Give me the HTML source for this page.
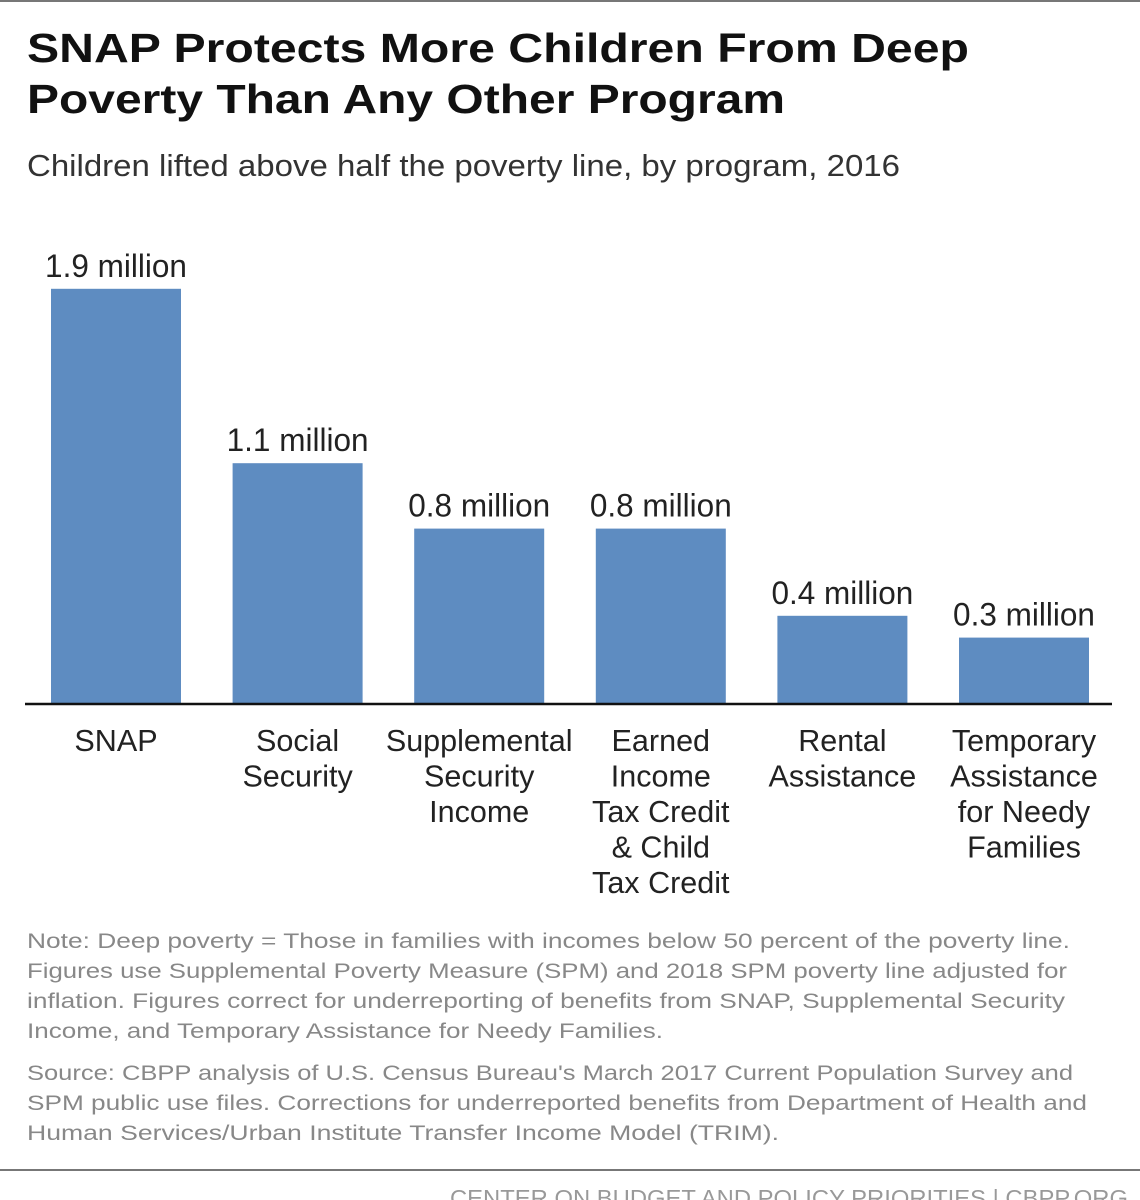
<!DOCTYPE html>
<html><head><meta charset="utf-8"><style>
html,body{margin:0;padding:0;background:#fff;}
svg{display:block;font-family:"Liberation Sans",sans-serif;}
</style></head><body>
<svg id="chart" width="1140" height="1200" viewBox="0 0 1140 1200" xmlns="http://www.w3.org/2000/svg">
<rect x="0" y="0" width="1140" height="1200" fill="#fff"/>
<line x1="0" y1="1" x2="1140" y2="1" stroke="#777" stroke-width="2"/>
<text x="27" y="62" font-size="41" font-weight="bold" fill="#111" textLength="942" lengthAdjust="spacingAndGlyphs">SNAP Protects More Children From Deep</text>
<text x="27" y="113" font-size="41" font-weight="bold" fill="#111" textLength="758" lengthAdjust="spacingAndGlyphs">Poverty Than Any Other Program</text>
<text x="27" y="176" font-size="31" fill="#333" textLength="873" lengthAdjust="spacingAndGlyphs">Children lifted above half the poverty line, by program, 2016</text>
<g id="bars"></g>
<line x1="25" y1="704" x2="1112" y2="704" stroke="#111" stroke-width="2.5"/>
<g fill="#888" font-size="21">
<text x="27" y="948" textLength="1043" lengthAdjust="spacingAndGlyphs">Note: Deep poverty = Those in families with incomes below 50 percent of the poverty line.</text>
<text x="27" y="978" textLength="1040" lengthAdjust="spacingAndGlyphs">Figures use Supplemental Poverty Measure (SPM) and 2018 SPM poverty line adjusted for</text>
<text x="27" y="1008" textLength="1038" lengthAdjust="spacingAndGlyphs">inflation. Figures correct for underreporting of benefits from SNAP, Supplemental Security</text>
<text x="27" y="1038" textLength="636" lengthAdjust="spacingAndGlyphs">Income, and Temporary Assistance for Needy Families.</text>
</g>
<g fill="#888" font-size="21">
<text x="27" y="1080" textLength="1046" lengthAdjust="spacingAndGlyphs">Source: CBPP analysis of U.S. Census Bureau's March 2017 Current Population Survey and</text>
<text x="27" y="1110" textLength="1060" lengthAdjust="spacingAndGlyphs">SPM public use files. Corrections for underreported benefits from Department of Health and</text>
<text x="27" y="1140" textLength="752" lengthAdjust="spacingAndGlyphs">Human Services/Urban Institute Transfer Income Model (TRIM).</text>
</g>
<line x1="0" y1="1170" x2="1140" y2="1170" stroke="#777" stroke-width="2"/>
<text x="450" y="1206" font-size="23" fill="#999" textLength="678" lengthAdjust="spacingAndGlyphs">CENTER ON BUDGET AND POLICY PRIORITIES | CBPP.ORG</text>
</svg>
<script>
const categories = [["SNAP"],["Social","Security"],["Supplemental","Security","Income"],["Earned","Income","Tax Credit","& Child","Tax Credit"],["Rental","Assistance"],["Temporary","Assistance","for Needy","Families"]];
const values = [1.9, 1.1, 0.8, 0.8, 0.4, 0.3];
const valueLabels = ["1.9 million","1.1 million","0.8 million","0.8 million","0.4 million","0.3 million"];

const NS = "http://www.w3.org/2000/svg";
const baseY = 703, pxPerUnit = 218, x0 = 51, step = 181.6, bw = 130;
const yScale = v => baseY - v * pxPerUnit;
const xScale = i => x0 + i * step;
const g = document.getElementById('bars');
function condense(t, f) {
  const w = t.getComputedTextLength();
  t.setAttribute('textLength', (w * f).toFixed(1));
  t.setAttribute('lengthAdjust', 'spacingAndGlyphs');
}
values.forEach((v, i) => {
  const x = xScale(i), y = yScale(v);
  const r = document.createElementNS(NS, 'rect');
  r.setAttribute('x', x); r.setAttribute('y', y);
  r.setAttribute('width', bw); r.setAttribute('height', baseY - y);
  r.setAttribute('fill', '#5e8cc1');
  
  
  g.appendChild(r);
  const t = document.createElementNS(NS, 'text');
  t.setAttribute('x', x + bw / 2); t.setAttribute('y', y - 12);
  t.setAttribute('text-anchor', 'middle'); t.setAttribute('font-size', '32');
  t.setAttribute('fill', '#222');
  t.textContent = valueLabels[i];
  
  
  g.appendChild(t);
  condense(t, 0.985);
  categories[i].forEach((line, j) => {
    const c = document.createElementNS(NS, 'text');
    c.setAttribute('x', x + bw / 2); c.setAttribute('y', 751 + j * 35.5);
    c.setAttribute('text-anchor', 'middle'); c.setAttribute('font-size', '31');
    c.setAttribute('fill', '#222');
    c.textContent = line;
    
    
    g.appendChild(c);
    condense(c, 0.985);
  });
});
</script>
</body></html>
